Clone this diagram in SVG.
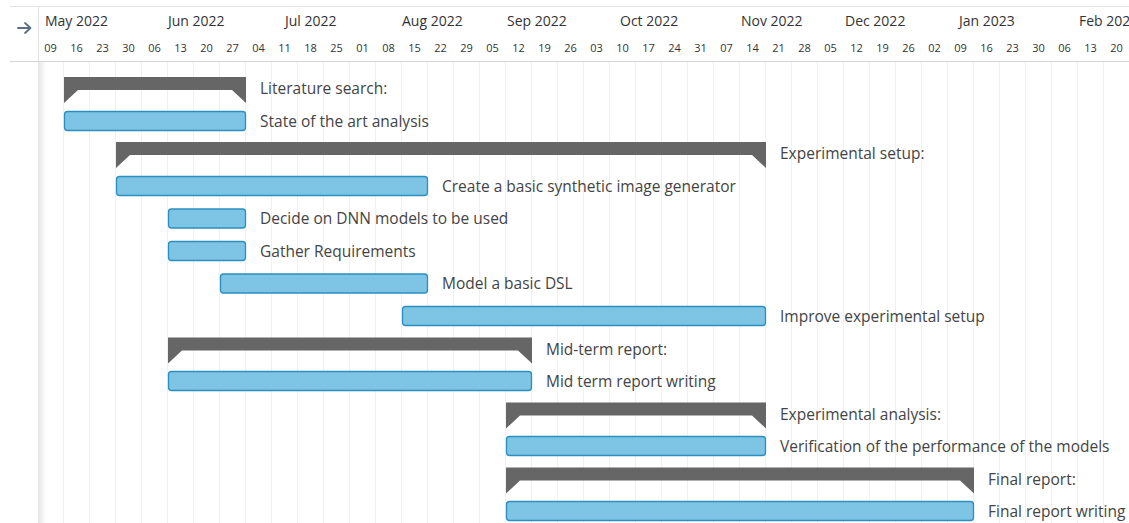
<svg xmlns="http://www.w3.org/2000/svg" width="1129" height="523" viewBox="0 0 1129 523">
<style>
.mon{font-family:"Open Sans","Noto Sans",sans-serif;font-size:14px;fill:#333}
.wk{font-family:"Open Sans","Noto Sans",sans-serif;font-size:11px;fill:#333;text-anchor:middle}
.lbl{font-family:"Open Sans","Noto Sans",sans-serif;font-size:15.5px;fill:#444}
.task{fill:#7ec4e4;stroke:#2b8fbf;stroke-width:1.3}
.sum{fill:#666}
.grid line{stroke:#f0f0f0;stroke-width:1}
</style>
<defs>
<linearGradient id="shadow" x1="0" x2="1" y1="0" y2="0">
<stop offset="0" stop-color="#e4e4e4"/>
<stop offset="1" stop-color="#ffffff"/>
</linearGradient>
</defs>
<rect width="1129" height="523" fill="#fff"/>
<rect x="38" y="61" width="8" height="462" fill="url(#shadow)"/>
<g class="grid" id="grid">
<line x1="63.5" y1="62" x2="63.5" y2="523"/><line x1="89.5" y1="62" x2="89.5" y2="523"/><line x1="115.5" y1="62" x2="115.5" y2="523"/><line x1="141.5" y1="62" x2="141.5" y2="523"/><line x1="167.5" y1="62" x2="167.5" y2="523"/><line x1="193.5" y1="62" x2="193.5" y2="523"/><line x1="219.5" y1="62" x2="219.5" y2="523"/><line x1="245.5" y1="62" x2="245.5" y2="523"/><line x1="271.5" y1="62" x2="271.5" y2="523"/><line x1="297.5" y1="62" x2="297.5" y2="523"/><line x1="323.5" y1="62" x2="323.5" y2="523"/><line x1="349.5" y1="62" x2="349.5" y2="523"/><line x1="375.5" y1="62" x2="375.5" y2="523"/><line x1="401.5" y1="62" x2="401.5" y2="523"/><line x1="427.5" y1="62" x2="427.5" y2="523"/><line x1="453.5" y1="62" x2="453.5" y2="523"/><line x1="479.5" y1="62" x2="479.5" y2="523"/><line x1="505.5" y1="62" x2="505.5" y2="523"/><line x1="531.5" y1="62" x2="531.5" y2="523"/><line x1="557.5" y1="62" x2="557.5" y2="523"/><line x1="583.5" y1="62" x2="583.5" y2="523"/><line x1="609.5" y1="62" x2="609.5" y2="523"/><line x1="635.5" y1="62" x2="635.5" y2="523"/><line x1="661.5" y1="62" x2="661.5" y2="523"/><line x1="687.5" y1="62" x2="687.5" y2="523"/><line x1="713.5" y1="62" x2="713.5" y2="523"/><line x1="739.5" y1="62" x2="739.5" y2="523"/><line x1="765.5" y1="62" x2="765.5" y2="523"/><line x1="791.5" y1="62" x2="791.5" y2="523"/><line x1="817.5" y1="62" x2="817.5" y2="523"/><line x1="843.5" y1="62" x2="843.5" y2="523"/><line x1="869.5" y1="62" x2="869.5" y2="523"/><line x1="895.5" y1="62" x2="895.5" y2="523"/><line x1="921.5" y1="62" x2="921.5" y2="523"/><line x1="947.5" y1="62" x2="947.5" y2="523"/><line x1="973.5" y1="62" x2="973.5" y2="523"/><line x1="999.5" y1="62" x2="999.5" y2="523"/><line x1="1025.5" y1="62" x2="1025.5" y2="523"/><line x1="1051.5" y1="62" x2="1051.5" y2="523"/><line x1="1077.5" y1="62" x2="1077.5" y2="523"/><line x1="1103.5" y1="62" x2="1103.5" y2="523"/>
</g>
<g id="header">
<line x1="10" y1="6.5" x2="1129" y2="6.5" stroke="#e2e2e2"/>
<line x1="10" y1="61.5" x2="1129" y2="61.5" stroke="#d4d4d4" stroke-width="1.2"/>
<line x1="38.5" y1="6" x2="38.5" y2="61" stroke="#e2e2e2"/>
<path d="M18 28 H30 M25 23 L30.5 28 L25 33" fill="none" stroke="#5b6f86" stroke-width="1.8" stroke-linecap="round" stroke-linejoin="round"/>
<text class="mon" x="45" y="26">May 2022</text>
<text class="mon" x="168" y="26">Jun 2022</text>
<text class="mon" x="285" y="26">Jul 2022</text>
<text class="mon" x="402" y="26">Aug 2022</text>
<text class="mon" x="507" y="26">Sep 2022</text>
<text class="mon" x="620" y="26">Oct 2022</text>
<text class="mon" x="741" y="26">Nov 2022</text>
<text class="mon" x="845" y="26">Dec 2022</text>
<text class="mon" x="959" y="26">Jan 2023</text>
<text class="mon" x="1079" y="26">Feb 2023</text>
<text class="wk" x="50.5" y="52">09</text><text class="wk" x="76.5" y="52">16</text><text class="wk" x="102.5" y="52">23</text><text class="wk" x="128.5" y="52">30</text><text class="wk" x="154.5" y="52">06</text><text class="wk" x="180.5" y="52">13</text><text class="wk" x="206.5" y="52">20</text><text class="wk" x="232.5" y="52">27</text><text class="wk" x="258.5" y="52">04</text><text class="wk" x="284.5" y="52">11</text><text class="wk" x="310.5" y="52">18</text><text class="wk" x="336.5" y="52">25</text><text class="wk" x="362.5" y="52">01</text><text class="wk" x="388.5" y="52">08</text><text class="wk" x="414.5" y="52">15</text><text class="wk" x="440.5" y="52">22</text><text class="wk" x="466.5" y="52">29</text><text class="wk" x="492.5" y="52">05</text><text class="wk" x="518.5" y="52">12</text><text class="wk" x="544.5" y="52">19</text><text class="wk" x="570.5" y="52">26</text><text class="wk" x="596.5" y="52">03</text><text class="wk" x="622.5" y="52">10</text><text class="wk" x="648.5" y="52">17</text><text class="wk" x="674.5" y="52">24</text><text class="wk" x="700.5" y="52">31</text><text class="wk" x="726.5" y="52">07</text><text class="wk" x="752.5" y="52">14</text><text class="wk" x="778.5" y="52">21</text><text class="wk" x="804.5" y="52">28</text><text class="wk" x="830.5" y="52">05</text><text class="wk" x="856.5" y="52">12</text><text class="wk" x="882.5" y="52">19</text><text class="wk" x="908.5" y="52">26</text><text class="wk" x="934.5" y="52">02</text><text class="wk" x="960.5" y="52">09</text><text class="wk" x="986.5" y="52">16</text><text class="wk" x="1012.5" y="52">23</text><text class="wk" x="1038.5" y="52">30</text><text class="wk" x="1064.5" y="52">06</text><text class="wk" x="1090.5" y="52">13</text><text class="wk" x="1116.5" y="52">20</text>
</g>
<g id="connectors"></g>
<g id="literature-search">
<path class="sum" d="M64 77 H246 V103 L232 90 H78 L64 103 Z"/>
<text class="lbl" x="260" y="94">Literature search:</text>
</g>
<g id="state-of-the-art">
<rect class="task" x="64.5" y="111.5" width="181" height="19" rx="3"/>
<text class="lbl" x="260" y="126.5">State of the art analysis</text>
</g>
<g id="experimental-setup">
<path class="sum" d="M116 142 H766 V168 L752 155 H130 L116 168 Z"/>
<text class="lbl" x="780" y="159">Experimental setup:</text>
</g>
<g id="synthetic-generator">
<rect class="task" x="116.5" y="176.5" width="311" height="19" rx="3"/>
<text class="lbl" x="442" y="191.5">Create a basic synthetic image generator</text>
</g>
<g id="dnn-models">
<rect class="task" x="168.5" y="209" width="77" height="19" rx="3"/>
<text class="lbl" x="260" y="224">Decide on DNN models to be used</text>
</g>
<g id="requirements">
<rect class="task" x="168.5" y="241.5" width="77" height="19" rx="3"/>
<text class="lbl" x="260" y="256.5">Gather Requirements</text>
</g>
<g id="basic-dsl">
<rect class="task" x="220.5" y="274" width="207" height="19" rx="3"/>
<text class="lbl" x="442" y="289">Model a basic DSL</text>
</g>
<g id="improve-setup">
<rect class="task" x="402.5" y="306.5" width="363" height="19" rx="3"/>
<text class="lbl" x="780" y="321.5">Improve experimental setup</text>
</g>
<g id="mid-term-report">
<path class="sum" d="M168 337.5 H532 V363.5 L518 350.5 H182 L168 363.5 Z"/>
<text class="lbl" x="546" y="354.5">Mid-term report:</text>
</g>
<g id="mid-term-writing">
<rect class="task" x="168.5" y="371.5" width="363" height="19" rx="3"/>
<text class="lbl" x="546" y="386.5">Mid term report writing</text>
</g>
<g id="experimental-analysis">
<path class="sum" d="M506 402.5 H766 V428.5 L752 415.5 H520 L506 428.5 Z"/>
<text class="lbl" x="780" y="419.5">Experimental analysis:</text>
</g>
<g id="verification">
<rect class="task" x="506.5" y="436.5" width="259" height="19" rx="3"/>
<text class="lbl" x="780" y="451.5">Verification of the performance of the models</text>
</g>
<g id="final-report">
<path class="sum" d="M506 467.5 H974 V493.5 L960 480.5 H520 L506 493.5 Z"/>
<text class="lbl" x="988" y="484.5">Final report:</text>
</g>
<g id="final-report-writing">
<rect class="task" x="506.5" y="501.5" width="467" height="19" rx="3"/>
<text class="lbl" x="988" y="516.5">Final report writing</text>
</g>
</svg>
